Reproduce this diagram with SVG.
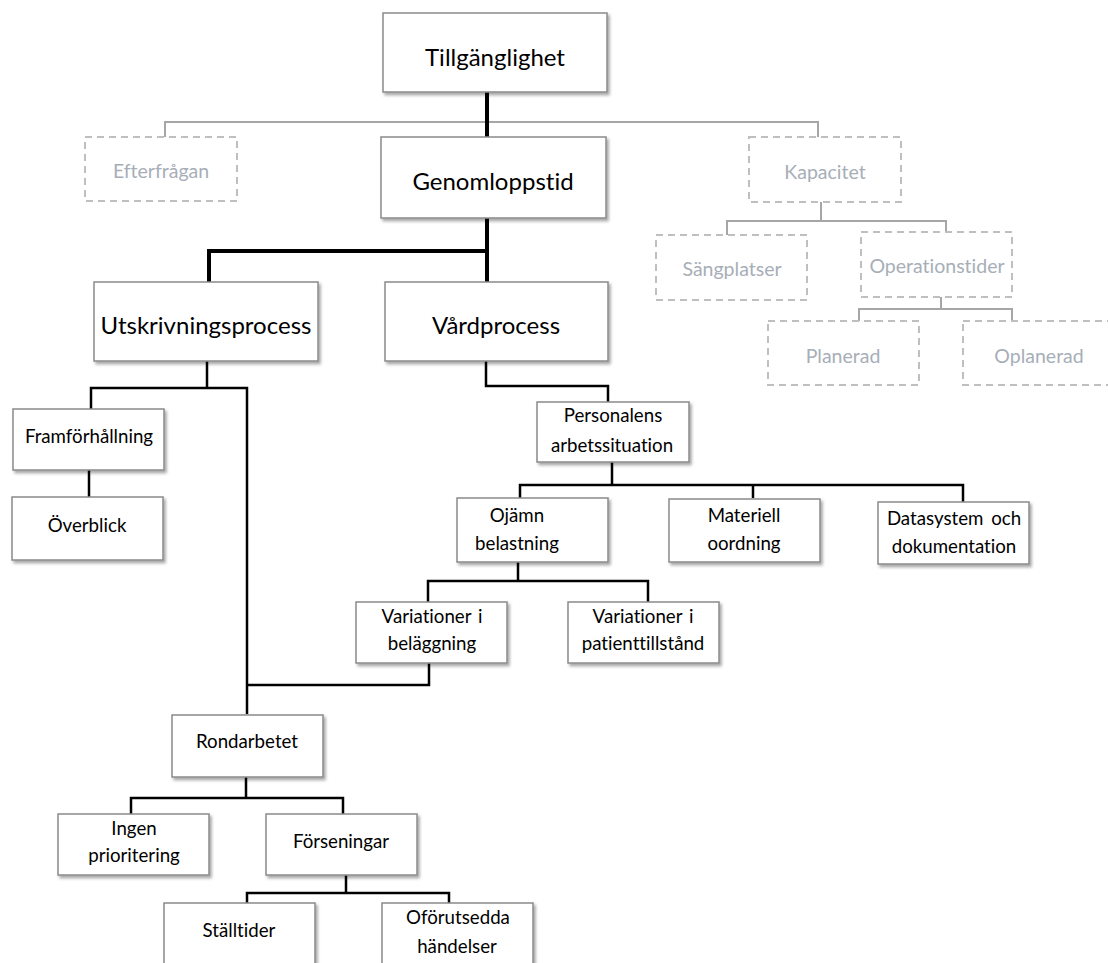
<svg xmlns="http://www.w3.org/2000/svg" width="1108" height="963" viewBox="0 0 1108 963">
  <defs>
    <filter id="shadow" x="-10%" y="-10%" width="130%" height="140%">
      <feDropShadow dx="2" dy="2.5" stdDeviation="1.5" flood-color="#000" flood-opacity="0.35"/>
    </filter>
  </defs>
  <style>
    .box { fill: #ffffff; stroke: #8a8a8a; stroke-width: 1.5; filter: url(#shadow); }
    .ghost { fill: #ffffff; stroke: #bfbfbf; stroke-width: 2; stroke-dasharray: 7 5; }
    text { font-family: Lato, "Liberation Sans", sans-serif; font-variant-ligatures: none; text-anchor: middle; }
    .t { fill: #000; }
    .big { font-size: 24px; }
    .sm { font-size: 18.7px; }
    .gt { fill: #a7aeb8; font-size: 19.5px; }
    .thick { fill: none; stroke: #000; stroke-width: 4; }
    .thin { fill: none; stroke: #000; stroke-width: 2.5; }
    .grey { fill: none; stroke: #a6a6a6; stroke-width: 2; }
  </style>
  <rect width="1108" height="963" fill="#ffffff"/>

  <g id="connectors">
    <!-- light grey branches to the unused nodes -->
    <path class="grey" d="M165,137 V122 H818 V137"/>
    <path class="grey" d="M821,202 V221 M727,235 V221 H946 V232"/>
    <path class="grey" d="M941,297 V309 M859,321 V309 H1012 V321"/>
    <!-- main chain -->
    <path class="thick" d="M487,92 V137"/>
    <path class="thick" d="M487,218 V282 M209,282 V251 H487"/>
    <!-- discharge process -->
    <path class="thin" d="M207,361 V388 M91,409 V388 H247 V714"/>
    <path class="thin" d="M89,470 V497"/>
    <!-- care process -->
    <path class="thin" d="M486,361 V386 H608 V402"/>
    <path class="thin" d="M612,462 V485 M520,498 V485 H963 V502 M753,485 V498"/>
    <path class="thin" d="M518,562 V581 M428,602 V581 H648 V602"/>
    <path class="thin" d="M429,663 V685 H247"/>
    <!-- rounds -->
    <path class="thin" d="M246,777 V798 M131,814 V798 H343 V814"/>
    <path class="thin" d="M346,875 V893 M247,903 V893 H449 V903"/>
  </g>

  <g id="n-tillganglighet">
    <rect class="box" x="383" y="13" width="224" height="79"/>
    <text class="t big" x="495" y="66">Tillgänglighet</text>
  </g>
  <g id="n-genomloppstid">
    <rect class="box" x="381" y="137" width="225" height="81"/>
    <text class="t big" x="493" y="190">Genomloppstid</text>
  </g>
  <g id="n-efterfragan">
    <rect class="ghost" x="85" y="137" width="152" height="64"/>
    <text class="gt" x="161" y="178">Efterfrågan</text>
  </g>
  <g id="n-kapacitet">
    <rect class="ghost" x="749" y="137" width="152" height="65"/>
    <text class="gt" x="825" y="179">Kapacitet</text>
  </g>
  <g id="n-sangplatser">
    <rect class="ghost" x="656" y="235" width="151" height="65"/>
    <text class="gt" x="732" y="276">Sängplatser</text>
  </g>
  <g id="n-operationstider">
    <rect class="ghost" x="861" y="232" width="151" height="65"/>
    <text class="gt" x="937" y="273">Operationstider</text>
  </g>
  <g id="n-planerad">
    <rect class="ghost" x="768" y="321" width="151" height="64"/>
    <text class="gt" x="843" y="363">Planerad</text>
  </g>
  <g id="n-oplanerad">
    <rect class="ghost" x="963" y="321" width="151" height="64"/>
    <text class="gt" x="1039" y="363">Oplanerad</text>
  </g>
  <g id="n-utskrivningsprocess">
    <rect class="box" x="94" y="282" width="224" height="79"/>
    <text class="t big" x="206" y="334">Utskrivningsprocess</text>
  </g>
  <g id="n-vardprocess">
    <rect class="box" x="385" y="282" width="223" height="79"/>
    <text class="t big" x="496" y="334">Vårdprocess</text>
  </g>
  <g id="n-framforhallning">
    <rect class="box" x="13" y="409" width="151" height="61"/>
    <text class="t sm" x="89" y="443">Framförhållning</text>
  </g>
  <g id="n-overblick">
    <rect class="box" x="12" y="497" width="151" height="63"/>
    <text class="t sm" x="87" y="532">Överblick</text>
  </g>
  <g id="n-personalens">
    <rect class="box" x="537" y="402" width="152" height="60"/>
    <text class="t sm" x="613" y="422">Personalens</text>
    <text class="t sm" x="612" y="452">arbetssituation</text>
  </g>
  <g id="n-ojamn">
    <rect class="box" x="457" y="498" width="151" height="64"/>
    <text class="t sm" x="517" y="522">Ojämn</text>
    <text class="t sm" x="517" y="550">belastning</text>
  </g>
  <g id="n-materiell">
    <rect class="box" x="669" y="499" width="151" height="63"/>
    <text class="t sm" x="744" y="522">Materiell</text>
    <text class="t sm" x="744" y="550">oordning</text>
  </g>
  <g id="n-datasystem">
    <rect class="box" x="878" y="502" width="151" height="62"/>
    <text class="t sm" x="954" y="525" word-spacing="3">Datasystem och</text>
    <text class="t sm" x="954" y="553">dokumentation</text>
  </g>
  <g id="n-belaggning">
    <rect class="box" x="356" y="602" width="151" height="61"/>
    <text class="t sm" x="432" y="623" word-spacing="2">Variationer i</text>
    <text class="t sm" x="432" y="650">beläggning</text>
  </g>
  <g id="n-patienttillstand">
    <rect class="box" x="568" y="602" width="151" height="61"/>
    <text class="t sm" x="643" y="623" word-spacing="2">Variationer i</text>
    <text class="t sm" x="643" y="650">patienttillstånd</text>
  </g>
  <g id="n-rondarbetet">
    <rect class="box" x="172" y="715" width="151" height="62"/>
    <text class="t sm" x="247" y="748">Rondarbetet</text>
  </g>
  <g id="n-ingen-prioritering">
    <rect class="box" x="58" y="814" width="151" height="61"/>
    <text class="t sm" x="134" y="835">Ingen</text>
    <text class="t sm" x="134" y="862">prioritering</text>
  </g>
  <g id="n-forseningar">
    <rect class="box" x="266" y="814" width="151" height="61"/>
    <text class="t sm" x="341" y="848">Förseningar</text>
  </g>
  <g id="n-stalltider">
    <rect class="box" x="164" y="903" width="151" height="70"/>
    <text class="t sm" x="239" y="937">Ställtider</text>
  </g>
  <g id="n-oforutsedda">
    <rect class="box" x="382" y="903" width="151" height="70"/>
    <text class="t sm" x="458" y="924">Oförutsedda</text>
    <text class="t sm" x="457" y="953">händelser</text>
  </g>
</svg>
